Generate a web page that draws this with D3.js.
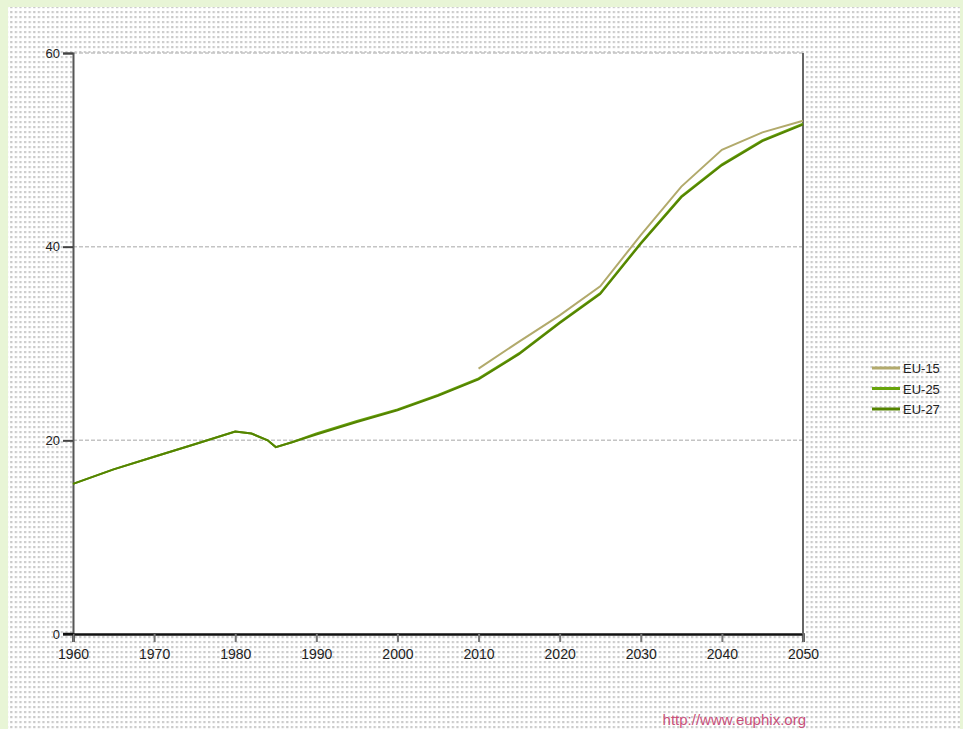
<!DOCTYPE html>
<html><head><meta charset="utf-8">
<script src="https://cdn.jsdelivr.net/npm/d3@7"></script>
<style>body{margin:0;background:#e8f5d6;}svg{display:block;}</style>
</head><body>
<svg id="chart" width="963" height="729"></svg>
<script>
const years = [1960,1965,1970,1975,1980,1982,1984,1985,1987,1990,1995,2000,2005,2010,2015,2020,2025,2030,2035,2040,2045,2050];
const eu25 = [15.5,17.0,18.3,19.6,20.9,20.7,20.0,19.3,19.8,20.7,22.0,23.2,24.7,26.4,29.0,32.2,35.2,40.4,45.2,48.5,51.0,52.7];
const eu27 = [15.5,17.0,18.3,19.6,20.9,20.7,20.0,19.3,19.8,20.6,21.9,23.1,24.6,26.3,28.9,32.1,35.1,40.3,45.1,48.4,50.9,52.6];
const eu15Years = [2010,2015,2020,2025,2030,2035,2040,2045,2050];
const eu15 = [27.4,30.2,32.9,35.9,41.2,46.2,50.0,51.8,53.0];
const seriesNames = ["EU-15","EU-25","EU-27"];
const seriesColors = ["#b2aa6c","#68a40c","#548400"];
const xTicks = [1960,1970,1980,1990,2000,2010,2020,2030,2040,2050];
const yTicks = [0,20,40,60];
const sourceText = "http://www.euphix.org";

const FONT = "Liberation Sans, Arial, sans-serif";
const svg = d3.select("#chart");
const defs = svg.append("defs");
const pat = defs.append("pattern").attr("id","dots").attr("patternUnits","userSpaceOnUse")
  .attr("width",4.6).attr("height",5);
pat.append("rect").attr("width",4.6).attr("height",5).attr("fill","#ffffff");
pat.append("rect").attr("x",1).attr("y",1).attr("width",2.2).attr("height",2.2).attr("fill","#cacaca");

svg.append("rect").attr("x",8).attr("y",7).attr("width",952).attr("height",722).attr("fill","url(#dots)");

const m = {left:73, top:53, right:803, bottom:634};
const x = d3.scaleLinear().domain([1960,2050]).range([m.left,m.right]);
const y = d3.scaleLinear().domain([0,60]).range([m.bottom,m.top]);

svg.append("rect").attr("x",m.left).attr("y",m.top).attr("width",m.right-m.left).attr("height",m.bottom-m.top).attr("fill","#ffffff");

// gridlines
svg.append("g").selectAll("line").data(yTicks.filter(d=>d>0)).join("line")
  .attr("x1",m.left).attr("x2",m.right).attr("y1",d=>y(d)).attr("y2",d=>y(d))
  .attr("stroke","#c4c4c4").attr("stroke-width",1.5).attr("stroke-dasharray","4,2");

// y axis
const yAxis = svg.append("g").attr("transform",`translate(${m.left},0)`)
  .call(d3.axisLeft(y).tickValues(yTicks).tickSize(10).tickPadding(3));
yAxis.select(".domain").attr("stroke","#555").attr("stroke-width",2);
yAxis.selectAll(".tick line").attr("stroke","#444").attr("stroke-width",2);
yAxis.selectAll("text").attr("font-family",FONT).attr("font-size",13).attr("fill","#222");

// x axis
const xAxis = svg.append("g").attr("transform",`translate(0,${m.bottom})`)
  .call(d3.axisBottom(x).tickValues(xTicks).tickFormat(d3.format("d")).tickSize(8).tickPadding(7));
xAxis.select(".domain").attr("stroke","#111").attr("stroke-width",2.5);
xAxis.selectAll(".tick line").attr("stroke","#777").attr("stroke-width",2);
xAxis.selectAll("text").attr("font-family",FONT).attr("font-size",14).attr("fill","#222");
svg.append("line").attr("x1",63).attr("x2",m.left).attr("y1",m.bottom).attr("y2",m.bottom).attr("stroke","#111").attr("stroke-width",2.5);

// right border
svg.append("line").attr("x1",m.right).attr("x2",m.right).attr("y1",m.top).attr("y2",m.bottom)
  .attr("stroke","#666").attr("stroke-width",2);

// lines
const line = d3.line().x(d=>x(d[0])).y(d=>y(d[1]));
const data = [
  eu15Years.map((yr,i)=>[yr,eu15[i]]),
  years.map((yr,i)=>[yr,eu25[i]]),
  years.map((yr,i)=>[yr,eu27[i]])
];
svg.append("g").selectAll("path").data(data).join("path")
  .attr("d",line).attr("fill","none")
  .attr("stroke",(d,i)=>seriesColors[i]).attr("stroke-width",2);

// legend
const lg = svg.append("g").attr("transform","translate(872,368)");
seriesNames.forEach((n,i)=>{
  const g = lg.append("g").attr("transform",`translate(0,${i*20.5})`);
  g.append("line").attr("x1",0).attr("x2",28).attr("y1",0).attr("y2",0)
    .attr("stroke",seriesColors[i]).attr("stroke-width",3);
  g.append("text").attr("x",31).attr("y",5).text(n)
    .attr("font-family",FONT).attr("font-size",13).attr("fill","#222");
});

// source
svg.append("text").attr("x",806).attr("y",725).attr("text-anchor","end").text(sourceText)
  .attr("font-family",FONT).attr("font-size",15).attr("fill","#c8507a");
</script>
</body></html>
